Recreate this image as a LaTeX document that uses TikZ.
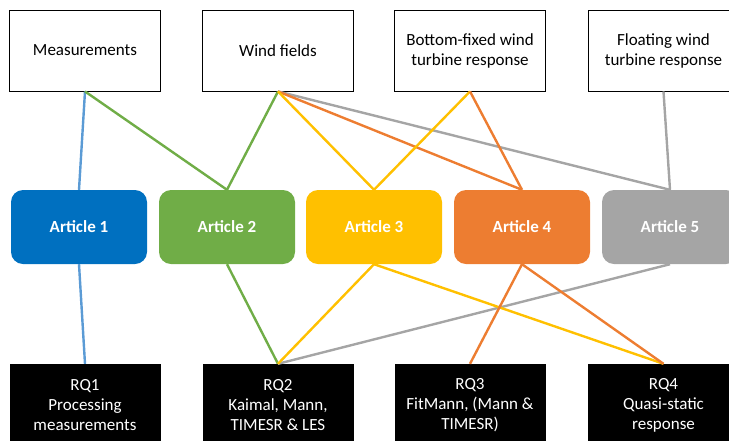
\documentclass[tikz,border=0pt]{standalone}
\usepackage{fontspec}
\setmainfont{Carlito}
\definecolor{cblue}{HTML}{0070C0}
\definecolor{cgreen}{HTML}{70AD47}
\definecolor{cyellow}{HTML}{FFC000}
\definecolor{corange}{HTML}{ED7D31}
\definecolor{cgray}{HTML}{A5A5A5}
\definecolor{lblue}{HTML}{5B9BD5}
\begin{document}
\begin{tikzpicture}[x=1pt,y=-1pt,
  topbox/.style={draw=black, line width=0.9pt, fill=white, minimum width=151pt, minimum height=81pt, inner sep=0pt, align=center, font=\fontsize{17}{20}\selectfont},
  artbox/.style={rounded corners=12pt, minimum width=136pt, minimum height=74pt, inner sep=0pt, text=white, font=\fontsize{17}{20}\selectfont\bfseries},
  rqbox/.style={fill=black, minimum width=151pt, minimum height=82pt, inner sep=0pt, text=white, align=center, font=\fontsize{17}{20}\selectfont},
  conn/.style={line width=2.4pt}]
\useasboundingbox (0,0) rectangle (729,440);
\clip (0,0) rectangle (729,440);
% top boxes
\node[topbox] (meas) at (85,50.5) {Measurements};
\node[topbox] (wind) at (278,50.5) {Wind fields};
\node[topbox] (fixed) at (470,50.5) {Bottom-fixed wind\\turbine response};
\node[topbox] (float) at (663.5,50.5) {Floating wind\\turbine response};
% articles
\node[artbox, fill=cblue] (a1) at (79,227) {Article 1};
\node[artbox, fill=cgreen] (a2) at (227,227) {Article 2};
\node[artbox, fill=cyellow] (a3) at (374,227) {Article 3};
\node[artbox, fill=corange] (a4) at (522,227) {Article 4};
\node[artbox, fill=cgray] (a5) at (670,227) {Article 5};
% RQ boxes
\node[rqbox] (rq1) at (85,405) {RQ1\\Processing\\measurements};
\node[rqbox] (rq2) at (278,405) {RQ2\\Kaimal, Mann,\\TIMESR \& LES};
\node[rqbox] (rq3) at (470,405) {RQ3\\FitMann, (Mann \&\\TIMESR)};
\node[rqbox] (rq4) at (663.5,405) {RQ4\\Quasi-static\\response};
% connectors top
\draw[conn, lblue] (meas.south) -- (a1.north);
\draw[conn, cgreen] (meas.south) -- (a2.north);
\draw[conn, cgreen] (wind.south) -- (a2.north);
\draw[conn, cgray] (wind.south) -- (a5.north);
\draw[conn, corange] (wind.south) -- (a4.north);
\draw[conn, cyellow] (wind.south) -- (a3.north);
\draw[conn, cyellow] (fixed.south) -- (a3.north);
\draw[conn, corange] (fixed.south) -- (a4.north);
\draw[conn, cgray] (float.south) -- (a5.north);
% connectors bottom
\draw[conn, lblue] (a1.south) -- (rq1.north);
\draw[conn, cgreen] (a2.south) -- (rq2.north);
\draw[conn, cgray] (a5.south) -- (rq2.north);
\draw[conn, cyellow] (a3.south) -- (rq2.north);
\draw[conn, cyellow] (a3.south) -- (rq4.north);
\draw[conn, corange] (a4.south) -- (rq3.north);
\draw[conn, corange] (a4.south) -- (rq4.north);
\end{tikzpicture}
\end{document}
